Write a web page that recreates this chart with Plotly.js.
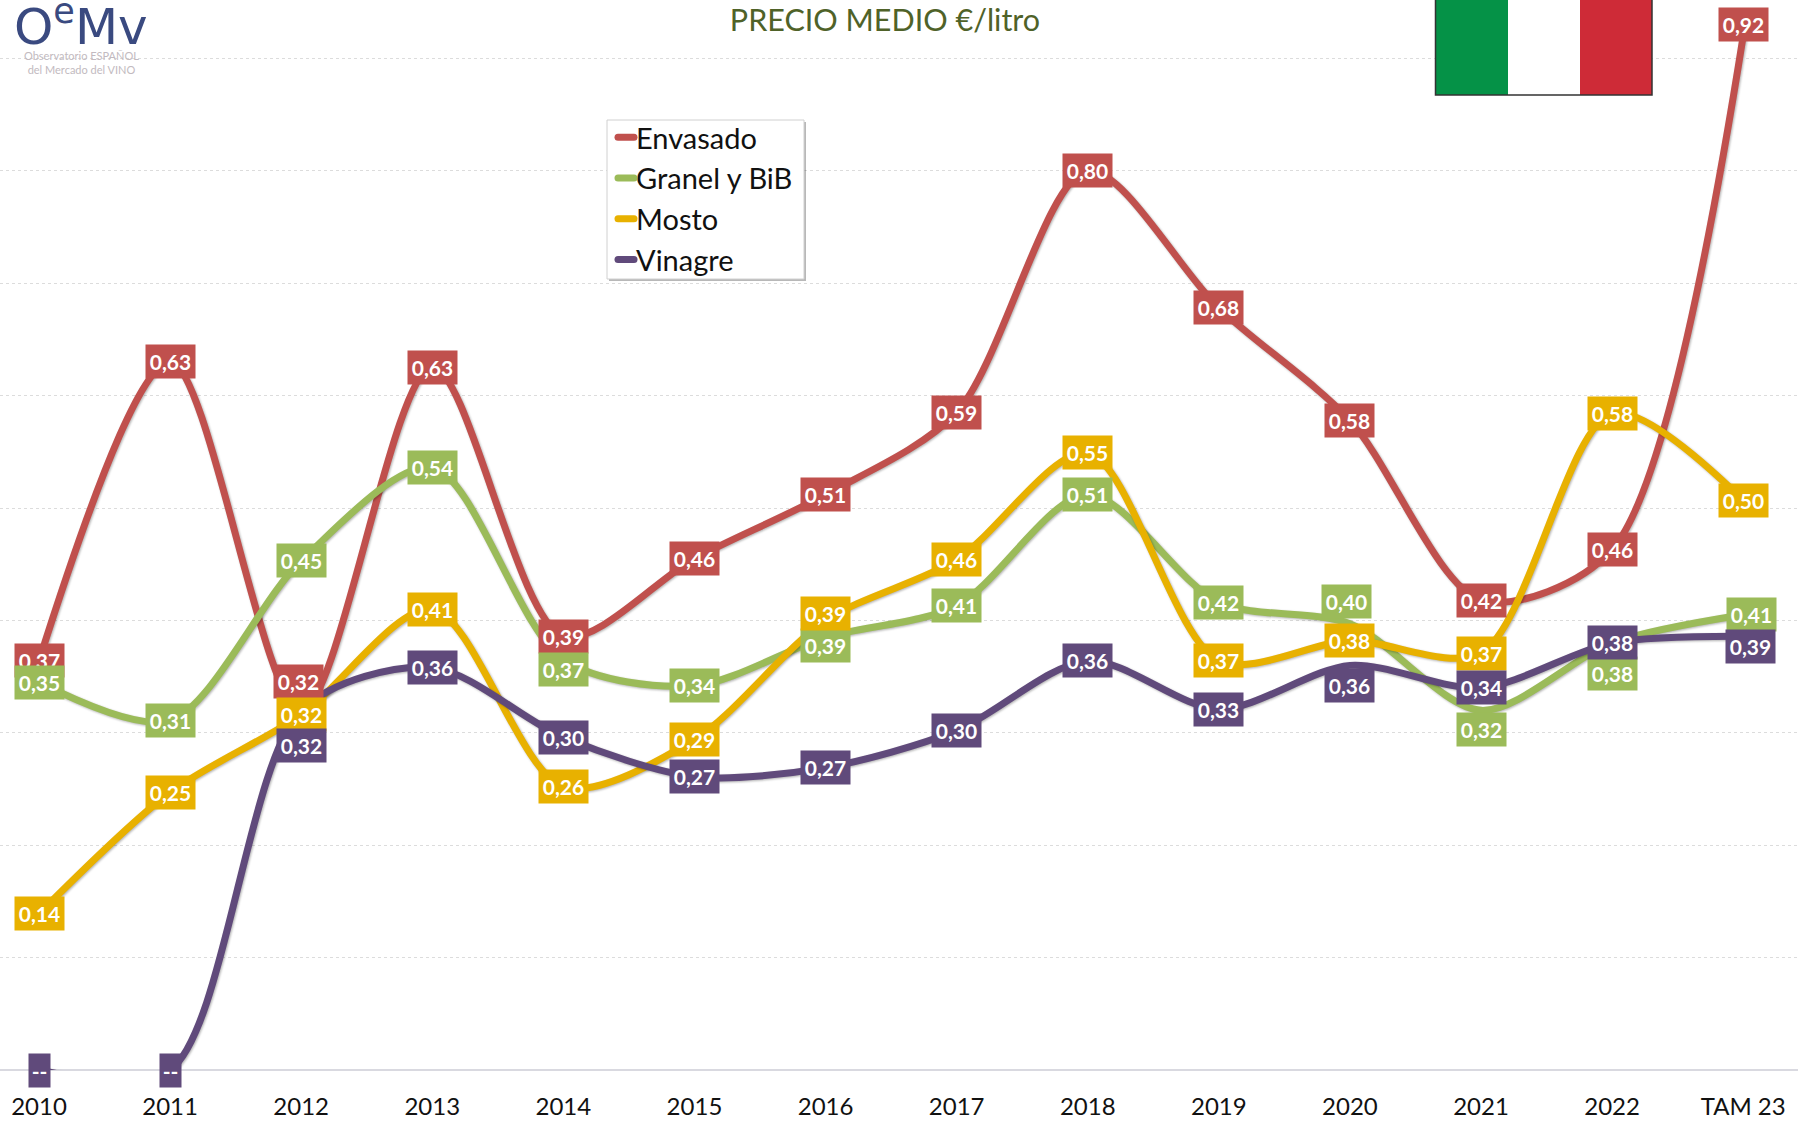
<!DOCTYPE html>
<html><head><meta charset="utf-8">
<script src="https://cdn.plot.ly/plotly-3.0.1.min.js"></script>
<style>
html,body{margin:0;padding:0;background:#fff}
#chart .scatterlayer .js-line{filter:drop-shadow(1px 1.5px 1px rgba(0,0,0,.3))}
</style></head><body><div id="chart" style="width:1798px;height:1121px"></div>
<script>
const categories=['2010','2011','2012','2013','2014','2015','2016','2017','2018','2019','2020','2021','2022','TAM 23'];
const envasado=[0.364,0.63,0.32,0.625,0.386,0.455,0.512,0.585,0.80,0.678,0.578,0.418,0.463,0.92];
const granel=[0.345,0.311,0.453,0.536,0.365,0.342,0.385,0.413,0.512,0.416,0.397,0.32,0.38,0.405];
const mosto=[0.139,0.247,0.316,0.41,0.252,0.294,0.40,0.454,0.549,0.364,0.382,0.371,0.584,0.507];
const vinagre=[0,0,0.32,0.358,0.296,0.261,0.269,0.302,0.364,0.321,0.36,0.34,0.38,0.386];
const envasadoLabels=['0,37','0,63','0,32','0,63','0,39','0,46','0,51','0,59','0,80','0,68','0,58','0,42','0,46','0,92'];
const granelLabels=['0,35','0,31','0,45','0,54','0,37','0,34','0,39','0,41','0,51','0,42','0,40','0,32','0,38','0,41'];
const mostoLabels=['0,14','0,25','0,32','0,41','0,26','0,29','0,39','0,46','0,55','0,37','0,38','0,37','0,58','0,50'];
const vinagreLabels=['--','--','0,32','0,36','0,30','0,27','0,27','0,30','0,36','0,33','0,36','0,34','0,38','0,39'];

// Data labels that were moved by hand off their point in the original: index -> [dx, dy] in px (dy > 0 is up)
const envasadoMoved={2:[-3,29],13:[0,11]};
const granelMoved={4:[0,-10],6:[0,-8],10:[-3,22],11:[0,-19],12:[0,-31],13:[8,0]};
const mostoMoved={6:[0,7]};
const vinagreMoved={2:[0,-35],10:[0,-20],13:[7,-10]};

const W=1798,H=1121,BOTTOM=51,PH=H-BOTTOM;
const px=x=>x/W, py=y=>1-y/PH;
const FONT='Lato, Carlito, sans-serif';
const series=[
 {name:'Envasado',y:envasado,labels:envasadoLabels,moved:envasadoMoved,color:'#C0504D'},
 {name:'Granel y BiB',y:granel,labels:granelLabels,moved:granelMoved,color:'#9BBB59'},
 {name:'Mosto',y:mosto,labels:mostoLabels,moved:mostoMoved,color:'#E8B100'},
 {name:'Vinagre',y:vinagre,labels:vinagreLabels,moved:vinagreMoved,color:'#604A7B'}
];
const traces=series.map(s=>({type:'scatter',mode:'lines',name:s.name,x:categories,y:s.y,
  line:{color:s.color,width:7,shape:'spline',smoothing:0.85},hoverinfo:'x+y'}));

const annotations=[];
series.forEach(s=>s.y.forEach((v,i)=>{
  const m=s.moved[i]||[0,0];
  annotations.push({x:i,y:v,xref:'x',yref:'y',text:s.labels[i],showarrow:false,
    xshift:m[0],yshift:m[1],width:s.labels[i]==='--'?21:49,height:33,borderpad:0,
    bgcolor:s.color,align:'center',valign:'middle',
    font:{family:FONT,size:21,color:'#fff',weight:700}});
}));
const logo=(text,x,y,size,color,family)=>annotations.push({xref:'paper',yref:'paper',x:px(x),y:py(y),text,showarrow:false,
  xanchor:'center',yanchor:'middle',font:{family:family||FONT,size,color}});
logo('O<sup>e</sup>Mv',81,23,50,'#3A4A80','DejaVu Sans');
logo('Observatorio ESPAÑOL<br>del Mercado del VINO',81,62,11,'#c2bac0');

const rect=(x0,y0,x1,y1,fill,layer,extra)=>Object.assign({type:'rect',xref:'paper',yref:'paper',
  x0:px(x0),x1:px(x1),y0:py(y0),y1:py(y1),fillcolor:fill,line:{width:0},layer:layer||'above'},extra||{});
const shapes=[
 rect(0,0,168,110,'#fff','below'),
 rect(609,122,806,281,'rgba(0,0,0,0.28)','above'),
 rect(607,120,804,279,'#fff','above',{line:{color:'#d0d0d0',width:1}}),
 rect(1436,-2,1508,95,'#059247'),
 rect(1508,-2,1580,95,'#ffffff'),
 rect(1580,-2,1652,95,'#CE2B37'),
 rect(1435.5,-5,1652,95,'rgba(0,0,0,0)','above',{line:{color:'#333',width:1.5}})
];

const layout={width:W,height:H,margin:{l:0,r:0,t:0,b:BOTTOM,pad:0},paper_bgcolor:'#fff',plot_bgcolor:'#fff',
 title:{text:'PRECIO MEDIO €/litro',x:px(885),xanchor:'center',y:1-20/H,yanchor:'middle',font:{family:FONT,size:30.5,color:'#4F6228'}},
 xaxis:{type:'category',categories:categories,categoryorder:'array',categoryarray:categories,range:[-0.2975,13.418],showgrid:false,zeroline:false,showline:false,
   ticks:'outside',ticklen:15,tickcolor:'rgba(0,0,0,0)',tickfont:{family:FONT,size:24,color:'#111'}},
 yaxis:{range:[0,0.952],dtick:0.1,showticklabels:false,ticks:'',gridcolor:'#dcdcdc',griddash:'dot',gridwidth:1,zeroline:true,zerolinecolor:'#d9d9e0',zerolinewidth:1.5},
 legend:{x:px(596),y:py(112),xanchor:'left',yanchor:'top',bgcolor:'rgba(0,0,0,0)',borderwidth:0,font:{family:FONT,size:29,color:'#111'},itemwidth:30},
 annotations,shapes,showlegend:true};
Plotly.newPlot('chart',traces,layout,{displayModeBar:false,responsive:false}).then(gd=>{
  gd.querySelectorAll('.legend .legendlines path').forEach(p=>{
    p.setAttribute('d','M22,0h16');p.style.strokeLinecap='round';
  });
});
</script></body></html>
